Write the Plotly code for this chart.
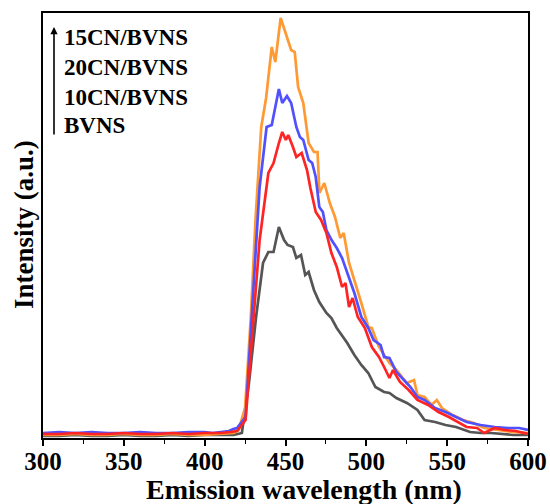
import plotly.graph_objects as go

# ---- data (intensity in arbitrary units) ----
wl_15 = [300, 310, 320, 330, 340, 350, 360, 370, 380, 390, 400, 410, 418, 421, 425.0, 428.5, 431.5, 435.0, 438.0, 441.5, 443.7, 447.0, 450.0, 453.5, 455.7, 457.8, 461.0, 464.3, 467.6, 469.8, 471.0, 474.0, 477.4, 480.6, 483.9, 486.0, 489.3, 492.6, 496.9, 501.2, 503.4, 507.8, 514.3, 518.6, 525.0, 529.5, 531.6, 536.0, 540.3, 543.6, 546.8, 553.3, 559.9, 566.4, 572.9, 581.6, 590.3, 600]
int_15 = [3, 3, 4, 3, 3, 4, 3, 3, 4, 3, 3, 4, 5, 8, 30, 120, 220, 311, 340, 391, 376, 420, 405, 388, 386, 351, 335, 295, 286, 286, 245, 255, 235, 221, 200, 205, 175, 158, 135, 111, 110, 91, 75, 68, 55, 58, 43, 41, 33, 38, 30, 23, 18, 15, 10, 8, 6, 5]

wl_20 = [300, 310, 320, 330, 340, 350, 360, 370, 380, 390, 400, 405, 410, 415, 417.7, 420, 425.3, 429.6, 434.0, 438.3, 441.5, 443.7, 445.9, 448.0, 450.9, 453.5, 456.7, 458.9, 461.0, 464.3, 466.5, 468.7, 470.9, 473.1, 475.3, 478.5, 481.7, 485.0, 488.2, 492.6, 496.9, 501.2, 504.5, 508.8, 511.0, 514.3, 518.6, 523.0, 527.3, 531.6, 536.0, 542.5, 549.0, 555.5, 562.0, 570.7, 579.4, 588.0, 594.5, 600]
int_20 = [5, 6, 5, 6, 5, 5, 6, 5, 5, 6, 6, 5, 6, 7, 9, 10, 21, 138, 251, 311, 313, 331, 349, 335, 342, 335, 311, 301, 298, 278, 275, 261, 231, 226, 208, 198, 190, 180, 165, 145, 121, 110, 98, 93, 81, 80, 66, 58, 51, 41, 38, 30, 26, 21, 16, 13, 11, 10, 10, 8]

wl_10 = [300, 310, 320, 330, 340, 350, 360, 370, 380, 390, 400, 410, 416, 420, 425.3, 429.6, 434.0, 439.4, 442.6, 445.9, 448.0, 450.2, 451.7, 454.6, 456.7, 460.0, 463.3, 465.4, 468.7, 472.0, 475.3, 478.4, 481.7, 485.0, 487.1, 489.3, 491.5, 494.7, 499.1, 503.4, 507.8, 511.0, 514.3, 516.5, 520.8, 526.2, 531.6, 538.2, 544.6, 551.1, 557.6, 562.0, 568.5, 572.9, 579.4, 585.9, 592.4, 600]
int_10 = [4, 4, 5, 4, 4, 5, 4, 4, 5, 4, 5, 5, 6, 7, 18, 105, 198, 265, 275, 295, 306, 298, 303, 291, 281, 285, 268, 250, 226, 218, 205, 185, 171, 151, 155, 131, 140, 121, 110, 91, 81, 71, 60, 68, 56, 48, 38, 33, 26, 21, 15, 11, 10, 5, 10, 8, 7, 4]

wl_bv = [300, 310, 320, 330, 340, 350, 360, 370, 380, 390, 400, 410, 418, 423.0, 427.4, 431.8, 436.1, 439.4, 442.6, 445.9, 449.1, 451.3, 454.6, 456.7, 459.6, 462.2, 464.3, 467.6, 470.9, 475.3, 478.4, 481.7, 485.0, 488.2, 492.6, 496.9, 501.2, 505.6, 511.0, 514.3, 518.6, 525.1, 531.6, 536.0, 542.5, 549.0, 555.5, 564.2, 570.7, 577.2, 591.0, 600]
int_bv = [2, 2, 3, 2, 2, 3, 2, 2, 3, 2, 3, 3, 3, 5, 55, 121, 175, 186, 186, 211, 198, 193, 191, 180, 183, 163, 166, 148, 136, 125, 120, 110, 103, 95, 83, 73, 65, 51, 46, 45, 40, 35, 28, 18, 16, 13, 11, 6, 5, 5, 3, 3]

series_names = ["BVNS", "15CN/BVNS", "20CN/BVNS", "10CN/BVNS"]
series_colors = ["#555555", "#FF9933", "#5050FF", "#FF2424"]
legend_labels = ["15CN/BVNS", "20CN/BVNS", "10CN/BVNS", "BVNS"]
x_title = "Emission wavelength (nm)"
y_title = "Intensity (a.u.)"

x_ticks = [300, 350, 400, 450, 500, 550, 600]

FONT = "Liberation Serif, Times New Roman, serif"
L, R, T, B = 43, 22, 13, 66
W = 550 - L - R
H = 504 - T - B


def px_to_paper(px, py):
    return (px - L) / W, 1 - (py - T) / H


fig = go.Figure()
xs = [wl_bv, wl_15, wl_20, wl_10]
ys = [int_bv, int_15, int_20, int_10]
for name, col, x, y in zip(series_names, series_colors, xs, ys):
    fig.add_trace(go.Scatter(x=x, y=y, mode="lines", name=name,
                             line=dict(color=col, width=2.7)))

# legend-like labels
label_y = [37, 67, 97, 125]
for lab, py in zip(legend_labels, label_y):
    ax_, ay_ = px_to_paper(62, py)
    fig.add_annotation(x=ax_, y=ay_, xref="paper", yref="paper",
                       text="<b>%s</b>" % lab, showarrow=False, xanchor="left", yanchor="middle",
                       font=dict(family=FONT, size=23, color="black"))

# arrow
tx, ty = px_to_paper(54, 27)
fig.add_annotation(x=tx, y=ty, xref="paper", yref="paper",
                   ax=0, ay=136 - 27, axref="pixel", ayref="pixel",
                   text="", showarrow=True, arrowhead=2, arrowsize=0.9, arrowwidth=1.6,
                   arrowcolor="black")

# axis titles
xt, yt = px_to_paper(304, 489)
fig.add_annotation(x=xt, y=yt, xref="paper", yref="paper", text="<b>%s</b>" % x_title,
                   showarrow=False, xanchor="center", yanchor="middle",
                   font=dict(family=FONT, size=28, color="black"))
xt, yt = px_to_paper(24, 225)
fig.add_annotation(x=xt, y=yt, xref="paper", yref="paper", text="<b>%s</b>" % y_title,
                   showarrow=False, xanchor="center", yanchor="middle", textangle=-90,
                   font=dict(family=FONT, size=27, color="black"))

fig.update_layout(
    width=550, height=504,
    margin=dict(l=L, r=R, t=T, b=B, autoexpand=False),
    paper_bgcolor="white", plot_bgcolor="white",
    showlegend=False,
    font=dict(family=FONT, color="black"),
)

fig.update_xaxes(range=[300, 600], tickvals=x_ticks, ticks="outside", ticklen=6, tickwidth=1.6,
                 tickcolor="black", showline=True, linewidth=2, linecolor="black", mirror=True,
                 showgrid=False, zeroline=False, automargin=False, ticklabelstandoff=-6,
                 minor=dict(dtick=25, tick0=300, ticks="outside", ticklen=4, tickwidth=1.4, tickcolor="black"),
                 tickfont=dict(family=FONT, size=25, color="black", weight="bold"))
fig.update_yaxes(range=[0, 425], showticklabels=False, ticks="", showline=True, linewidth=2,
                 linecolor="black", mirror=True, showgrid=False, zeroline=False, automargin=False)

fig.write_html("out.html")
